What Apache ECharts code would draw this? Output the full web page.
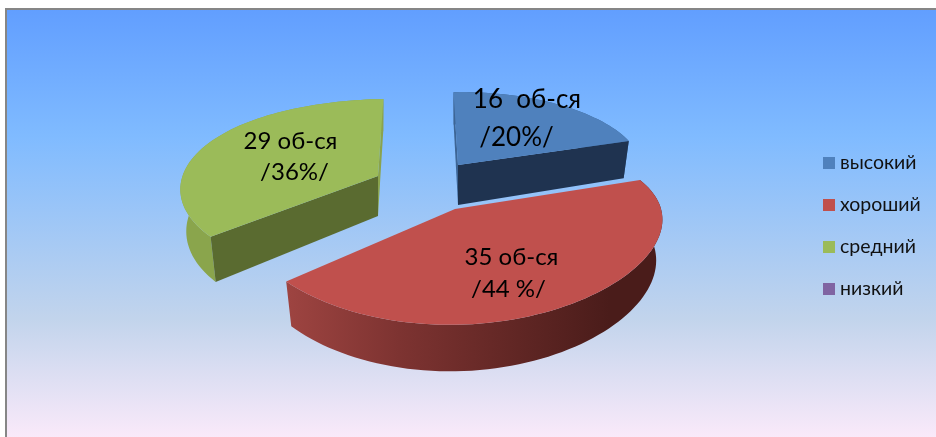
<!DOCTYPE html>
<html><head><meta charset="utf-8">
<style>html,body{margin:0;padding:0;background:#fff}#c{width:936px;height:437px}</style>
<script src="https://cdn.jsdelivr.net/npm/echarts@6/dist/echarts.min.js"></script>
</head><body><div id="c"></div>
<script>
// --- data ---
const categories = ['высокий', 'хороший', 'средний', 'низкий'];
const counts = [16, 35, 29, 0];
const labelLine1 = ['16  об-ся', '35 об-ся', '29 об-ся', ''];
const labelLine2 = ['/20%/', '/44 %/', '/36%/', ''];
const colors = ['#4f81bd', '#c0504d', '#9bbb59', '#8064a2'];
// --- layout of the tilted, exploded slices ---
const firstAngle = -3;
const geometry = [
  {cx:458, cy:165, a:181, kx:0,    b:64, ky:-0.122, shear:5,  lift:0, wallStart:'#3d6595', wallEnd:'#1f3350', rim:'#3d6595', lab:[527,100,516.5,138], fs:26},
  {cx:455, cy:209, a:206, kx:0.14, b:88, ky:0.24,   shear:5,  lift:0, rim:'red', lab:[511.5,257,508.5,289], fs:24},
  {cx:378, cy:176, a:192, kx:0.17, b:86.5, ky:0.123, shear:14, lift:8, wallStart:'#5a6b30', wallEnd:'#8aa34d', rim:'#8aa54c', lab:[290.5,141,294.5,172], fs:24},
  null
];
const shrink = 0.97, depth = 40, depthGrow = 10;
const total = counts.reduce((s, v) => s + v, 0);
const startAngles = counts.map((_, i) => firstAngle + counts.slice(0, i).reduce((s, v) => s + v, 0) / total * 360);

function project(g, deg, bottom) {
  const t = deg * Math.PI / 180, u = Math.sin(t), v = Math.cos(t);
  const X = g.a * u / (1 + g.kx * v) + g.shear * v;
  const Y = -g.b * v / (1 + g.ky * v) - g.lift * u * u;
  if (!bottom) return [g.cx + X, g.cy + Y];
  return [g.cx + X * shrink, g.cy + Y * shrink + depth - depthGrow * v];
}
function arc(g, from, to, bottom) {
  const pts = [], n = Math.max(2, Math.ceil(Math.abs(to - from) / 2));
  for (let i = 0; i <= n; i++) pts.push(project(g, from + (to - from) * i / n, bottom));
  return pts;
}
function sliceRenderer(index) {
  return function (params, api) {
    const g = geometry[index], value = api.value(0);
    if (!g || !value) return {type: 'group', children: []};
    const s = startAngles[index], e = s + value / total * 360;
    const apex = [g.cx, g.cy], apexB = [g.cx, g.cy + depth];
    const rimFill = g.rim === 'red'
      ? new echarts.graphic.LinearGradient(286, 0, 610, 0, [
          {offset: 0, color: '#9e4441'}, {offset: 0.35, color: '#7d3331'}, {offset: 1, color: '#4a1c1a'}], true)
      : g.rim;
    const kids = [];
    const poly = (points, fill) => kids.push({type: 'polygon', shape: {points}, style: {fill}, silent: true});
    poly(arc(g, s, e, false).concat(arc(g, e, s, true)), rimFill);
    if (g.wallStart) {
      poly([apex, project(g, s, false), project(g, s, true), apexB], g.wallStart);
      poly([apex, project(g, e, false), project(g, e, true), apexB], g.wallEnd);
    }
    poly([apex].concat(arc(g, s, e, false)), colors[index]);
    [labelLine1[index], labelLine2[index]].forEach((txt, k) => kids.push({
      type: 'text', z2: 50, silent: true,
      style: {x: g.lab[k * 2], y: g.lab[k * 2 + 1], text: txt, fill: '#000', align: 'center', verticalAlign: 'middle',
              font: g.fs + 'px Lato, "Noto Sans", sans-serif'}
    }));
    return {type: 'group', children: kids};
  };
}
const chart = echarts.init(document.getElementById('c'), null, {renderer: 'canvas'});
chart.setOption({
  animation: false,
  color: colors,
  graphic: [{
    type: 'rect', z: -10, silent: true,
    shape: {x: 6, y: 9, width: 932, height: 430},
    style: {
      fill: new echarts.graphic.LinearGradient(0, 0, 0, 1, [
        {offset: 0, color: '#619eff'}, {offset: 0.3, color: '#80bbff'},
        {offset: 0.72, color: '#c2d4ec'}, {offset: 1, color: '#fbeafa'}]),
      stroke: '#868686', lineWidth: 2
    }
  }],
  legend: {
    orient: 'vertical', left: 818, top: 148, itemWidth: 12, itemHeight: 12, itemGap: 22,
    icon: 'rect', data: categories,
    textStyle: {fontFamily: 'Lato, "Noto Sans", sans-serif', fontSize: 19.5, color: '#111', lineHeight: 16}
  },
  series: categories.map((name, i) => ({
    type: 'custom', name, coordinateSystem: 'none', renderItem: sliceRenderer(i), data: [[counts[i]]]
  }))
});
</script></body></html>
